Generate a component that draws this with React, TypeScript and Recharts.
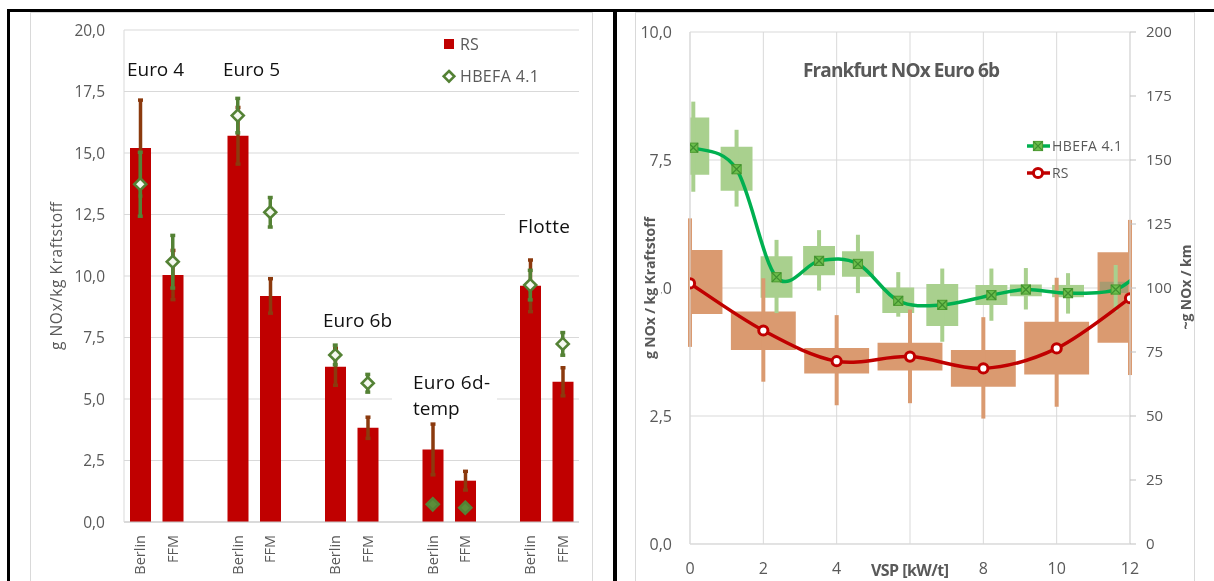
import React from 'react';
import {
  ComposedChart,
  Bar,
  Line,
  Scatter,
  XAxis,
  YAxis,
  CartesianGrid,
  ErrorBar,
  ReferenceArea,
} from 'recharts';

const FONT = '"Open Sans", "Noto Sans", sans-serif';
const GRAY_TEXT = '#595959';
const GRID = '#D9D9D9';

// ---------------- Left chart data ----------------
const slotIds = ['E4-B', 'E4-F', 'gap1', 'E5-B', 'E5-F', 'gap2', 'E6b-B', 'E6b-F', 'gap3', 'E6d-B', 'E6d-F', 'gap4', 'FL-B', 'FL-F'];
const slotLabels = ['Berlin', 'FFM', '', 'Berlin', 'FFM', '', 'Berlin', 'FFM', '', 'Berlin', 'FFM', '', 'Berlin', 'FFM'];
const rsValues = [15.2, 10.04, null, 15.7, 9.19, null, 6.31, 3.83, null, 2.95, 1.68, null, 9.6, 5.7];
const rsErrors = [1.95, 1.0, null, 1.15, 0.7, null, 0.75, 0.43, null, 1.03, 0.38, null, 1.05, 0.57];
const hbefaValues = [13.73, 10.58, null, 16.52, 12.59, null, 6.79, 5.64, null, 0.72, 0.58, null, 9.63, 7.24];
const hbefaErrors = [1.3, 1.07, null, 0.7, 0.6, null, 0.4, 0.36, null, 0, 0, null, 0.6, 0.46];
const leftTicks = [0, 2.5, 5, 7.5, 10, 12.5, 15, 17.5, 20];

// ---------------- Right chart data ----------------
const vspTicks = [0, 2, 4, 6, 8, 10, 12];
const leftAxisTicks = [0, 2.5, 5, 7.5, 10];
const rightAxisTicks = [0, 25, 50, 75, 100, 125, 150, 175, 200];

const hbefaVsp = [0.09, 1.27, 2.36, 3.52, 4.58, 5.68, 6.88, 8.22, 9.16, 10.31, 11.61, 12.5];
const hbefaMean = [7.74, 7.32, 5.21, 5.53, 5.47, 4.75, 4.67, 4.86, 4.97, 4.9, 4.97, 5.45];
const hbefaBoxLow = [7.21, 6.9, 4.81, 5.25, 5.22, 4.51, 4.26, 4.67, 4.84, 4.82, 4.9];
const hbefaBoxHigh = [8.33, 7.76, 5.62, 5.82, 5.72, 5.01, 5.08, 5.06, 5.07, 5.06, 5.12];
const hbefaWhiskLow = [6.88, 6.59, 4.51, 4.95, 4.9, 4.44, 3.95, 4.36, 4.58, 4.5, 4.54];
const hbefaWhiskHigh = [8.64, 8.09, 5.94, 6.13, 6.04, 5.31, 5.38, 5.38, 5.39, 5.29, 5.45];

const rsVsp = [0, 2, 4, 6, 8, 10, 12];
const rsMean = [5.09, 4.17, 3.57, 3.66, 3.43, 3.82, 4.8];
const rsBoxLow = [4.49, 3.79, 3.33, 3.39, 3.07, 3.31, 3.93];
const rsBoxHigh = [5.74, 4.54, 3.83, 3.93, 3.79, 4.34, 5.7];
const rsWhiskLow = [3.85, 3.17, 2.71, 2.75, 2.45, 2.68, 3.3];
const rsWhiskHigh = [6.36, 5.19, 4.47, 4.58, 4.43, 5.2, 6.33];

// ---------------- Derived tables ----------------
const leftData = slotIds.map((id, i) => ({
  id,
  rs: rsValues[i],
  rsErr: rsErrors[i],
  hb: hbefaValues[i],
  hbErr: hbefaErrors[i],
}));

const hbefaLine = hbefaVsp.map((x, i) => ({ x, y: hbefaMean[i] }));
const hbefaBand = hbefaBoxLow.map((lo, i) => ({
  x: hbefaVsp[i],
  y: hbefaMean[i],
  lo,
  hi: hbefaBoxHigh[i],
  whisk: [hbefaMean[i] - hbefaWhiskLow[i], hbefaWhiskHigh[i] - hbefaMean[i]],
}));
const rsLine = rsVsp.map((x, i) => ({ x, y: rsMean[i] }));
const rsBand = rsVsp.map((x, i) => ({
  x,
  y: rsMean[i],
  lo: rsBoxLow[i],
  hi: rsBoxHigh[i],
  whisk: [rsMean[i] - rsWhiskLow[i], rsWhiskHigh[i] - rsMean[i]],
}));

// half-widths of the boxes in VSP units (styling)
const HBEFA_HALF = 0.435;
const RS_HALF = 0.885;
const GREEN_BAND = '#A9D08E';
const BROWN_BAND = '#DA9A70';

const fmt = (v: number) => v.toFixed(1).replace('.', ',');
const fmtVsp = (v: number) => (v === 6 ? '' : String(v));

// Excel-like smoothed line (Catmull-Rom through the points)
const excelCurve: any = (context: any) => {
  let pts: number[][] = [];
  return {
    areaStart() {},
    areaEnd() {},
    lineStart() {
      pts = [];
    },
    point(x: number, y: number) {
      pts.push([+x, +y]);
    },
    lineEnd() {
      if (!pts.length) return;
      context.moveTo(pts[0][0], pts[0][1]);
      const t = 1 / 6;
      for (let i = 0; i < pts.length - 1; i++) {
        const p0 = pts[i - 1] || pts[i];
        const p1 = pts[i];
        const p2 = pts[i + 1];
        const p3 = pts[i + 2] || p2;
        context.bezierCurveTo(
          p1[0] + (p2[0] - p0[0]) * t,
          p1[1] + (p2[1] - p0[1]) * t,
          p2[0] - (p3[0] - p1[0]) * t,
          p2[1] - (p3[1] - p1[1]) * t,
          p2[0],
          p2[1]
        );
      }
    },
  };
};

const CatTick = (props: any) => {
  const { x, y, payload } = props;
  const idx = slotIds.indexOf(payload?.value);
  const label = idx >= 0 ? slotLabels[idx] : '';
  if (!label) return <g />;
  return (
    <text
      x={x}
      y={y}
      transform={`rotate(-90, ${x}, ${y})`}
      textAnchor="end"
      dy="0.35em"
      fontSize={14.5}
      fill={GRAY_TEXT}
      fontFamily={FONT}
    >
      {label}
    </text>
  );
};

const renderDiamond = (props: any) => {
  const { cx, cy, payload, index } = props;
  if (cx == null || cy == null || payload == null || payload.hb == null || isNaN(cy)) return <g key={`dm-${index}`} />;
  const s = 6;
  const solid = !payload.hbErr;
  return (
    <path
      key={`dm-${index}`}
      d={`M${cx},${cy - s}L${cx + s},${cy}L${cx},${cy + s}L${cx - s},${cy}Z`}
      fill={solid ? '#5B8E3A' : '#F4F8EF'}
      stroke="#548235"
      strokeWidth={2.6}
    />
  );
};

const renderSquareX = (props: any) => {
  const { cx, cy, index } = props;
  if (cx == null || cy == null || isNaN(cy)) return <g key={`sq-${index}`} />;
  const h = 4.6;
  return (
    <g key={`sq-${index}`}>
      <rect x={cx - h} y={cy - h} width={2 * h} height={2 * h} fill="#6CBD4C" stroke="#4C9A2E" strokeWidth={1} />
      <path
        d={`M${cx - h},${cy - h}L${cx + h},${cy + h}M${cx + h},${cy - h}L${cx - h},${cy + h}`}
        stroke="#3F8F2F"
        strokeWidth={1.3}
      />
    </g>
  );
};

const renderCircle = (props: any) => {
  const { cx, cy, index } = props;
  if (cx == null || cy == null || isNaN(cy)) return <g key={`ci-${index}`} />;
  return <circle key={`ci-${index}`} cx={cx} cy={cy} r={4.6} fill="#FFFFFF" stroke="#C00000" strokeWidth={3} />;
};

const emptyShape = () => <g />;

const tickStyle = { fill: GRAY_TEXT, fontSize: 15.5, fontFamily: FONT };

function LeftChart() {
  return (
    <ComposedChart
      width={614}
      height={581}
      data={leftData}
      margin={{ top: 30, right: 35, bottom: 0, left: 0 }}
    >
      <CartesianGrid vertical={false} stroke={GRID} />
      <XAxis
        dataKey="id"
        type="category"
        height={59}
        interval={0}
        axisLine={{ stroke: '#C8C8C8' }}
        tickLine={false}
        tickSize={0}
        tickMargin={13}
        tick={<CatTick />}
      />
      <YAxis
        width={124}
        domain={[0, 20]}
        ticks={leftTicks}
        tickFormatter={fmt}
        axisLine={{ stroke: GRID }}
        tickLine={false}
        tickSize={0}
        tickMargin={19}
        tick={tickStyle}
      />
      <Bar dataKey="rs" fill="#C00000" barSize={21} isAnimationActive={false}>
        <ErrorBar dataKey="rsErr" direction="y" width={2.5} stroke="#8B3A0E" strokeWidth={3.5} />
      </Bar>
      <Line
        dataKey="hb"
        stroke="none"
        isAnimationActive={false}
        dot={renderDiamond}
        activeDot={false}
        legendType="none"
      >
        <ErrorBar dataKey="hbErr" direction="y" width={2.5} stroke="#548235" strokeWidth={3.5} />
      </Line>
    </ComposedChart>
  );
}

function RightChart() {
  return (
    <ComposedChart width={594} height={581} margin={{ top: 32, right: 0, bottom: 0, left: 0 }}>
      <CartesianGrid stroke={GRID} yAxisId="l" />
      <XAxis
        dataKey="x"
        type="number"
        domain={[0, 12]}
        ticks={vspTicks}
        tickFormatter={fmtVsp}
        allowDataOverflow
        height={37}
        axisLine={{ stroke: GRID }}
        tickLine={false}
        tickSize={0}
        tickMargin={19}
        tick={{ ...tickStyle, fontSize: 16 }}
      />
      <YAxis
        yAxisId="l"
        orientation="left"
        width={70}
        domain={[0, 10]}
        ticks={leftAxisTicks}
        allowDataOverflow
        tickFormatter={fmt}
        axisLine={{ stroke: GRID }}
        tickLine={false}
        tickSize={0}
        tickMargin={18}
        tick={{ ...tickStyle, fontSize: 16 }}
      />
      <YAxis
        yAxisId="r"
        orientation="right"
        width={84}
        domain={[0, 200]}
        ticks={rightAxisTicks}
        allowDataOverflow
        axisLine={{ stroke: GRID }}
        tickLine={{ stroke: '#BFBFBF' }}
        tickSize={6}
        tickMargin={10}
        tick={{ ...tickStyle, fontSize: 15 }}
      />
      {rsBand.map((d, i) => (
        <ReferenceArea
          key={`rsb-${i}`}
          yAxisId="l"
          x1={d.x - RS_HALF}
          x2={d.x + RS_HALF}
          y1={d.lo}
          y2={d.hi}
          ifOverflow="hidden"
          fill={BROWN_BAND}
          fillOpacity={1}
          stroke="none"
          className="band-area"
        />
      ))}
      {hbefaBand.map((d, i) => (
        <ReferenceArea
          key={`hbb-${i}`}
          yAxisId="l"
          x1={d.x - HBEFA_HALF}
          x2={d.x + HBEFA_HALF}
          y1={d.lo}
          y2={d.hi}
          ifOverflow="hidden"
          fill={GREEN_BAND}
          fillOpacity={1}
          stroke="none"
          className="band-area"
        />
      ))}
      <Scatter
        yAxisId="l"
        data={rsBand}
        dataKey="y"
        shape={emptyShape}
        isAnimationActive={false}
        legendType="none"
      >
        <ErrorBar dataKey="whisk" direction="y" width={0} stroke={BROWN_BAND} strokeWidth={4} />
      </Scatter>
      <Scatter
        yAxisId="l"
        data={hbefaBand}
        dataKey="y"
        shape={emptyShape}
        isAnimationActive={false}
        legendType="none"
      >
        <ErrorBar dataKey="whisk" direction="y" width={0} stroke={GREEN_BAND} strokeWidth={4} />
      </Scatter>
      <Line
        yAxisId="l"
        data={hbefaLine}
        dataKey="y"
        type={excelCurve}
        stroke="#00B050"
        strokeWidth={3.5}
        dot={renderSquareX}
        activeDot={false}
        isAnimationActive={false}
      />
      <Line
        yAxisId="l"
        data={rsLine}
        dataKey="y"
        type={excelCurve}
        stroke="#C00000"
        strokeWidth={3.5}
        dot={renderCircle}
        activeDot={false}
        isAnimationActive={false}
      />
    </ComposedChart>
  );
}

const annot = { fontFamily: FONT, fontSize: 19, fill: '#111111' };

const css = `
.right-chart .recharts-reference-area,
.right-chart .band-area,
.right-chart line[stroke="${GREEN_BAND}"],
.right-chart line[stroke="${BROWN_BAND}"] { mix-blend-mode: darken; }
`;

export default function App() {
  return (
    <div
      style={{
        position: 'absolute',
        left: 0,
        top: 0,
        width: 1214,
        height: 581,
        background: '#FFFFFF',
        overflow: 'hidden',
        fontFamily: FONT,
      }}
    >
      <style>{css}</style>
      {/* frame / background */}
      <svg width={1214} height={581} style={{ position: 'absolute', left: 0, top: 0 }}>
        <rect x={30.5} y={12.5} width={562} height={600} fill="#FFFFFF" stroke={GRID} />
        <rect x={635.5} y={12.5} width={559} height={600} fill="#FFFFFF" stroke={GRID} />
        <rect x={7} y={9} width={1207} height={3} fill="#000" />
        <rect x={7} y={9} width={3} height={572} fill="#000" />
        <rect x={613} y={9} width={4} height={572} fill="#000" />
      </svg>
      <div style={{ position: 'absolute', left: 0, top: 0 }}>
        <LeftChart />
      </div>
      <div className="right-chart" style={{ position: 'absolute', left: 620, top: 0 }}>
        <RightChart />
      </div>
      {/* overlay: text boxes, titles, legends */}
      <svg width={1214} height={581} style={{ position: 'absolute', left: 0, top: 0, pointerEvents: 'none' }}>
        {/* left chart annotations */}
        <text x={127} y={76} {...annot} textLength={57}>Euro 4</text>
        <text x={223} y={76} {...annot} textLength={57}>Euro 5</text>
        <text x={323} y={327} {...annot} textLength={69}>Euro 6b</text>
        <rect x={392} y={365} width={105} height={57} fill="#FFFFFF" />
        <text x={413} y={389} {...annot} textLength={77}>Euro 6d-</text>
        <text x={413} y={415} {...annot}>temp</text>
        <rect x={505} y={205} width={74} height={36} fill="#FFFFFF" />
        <text x={518} y={233} {...annot} textLength={52}>Flotte</text>

        {/* left chart y title */}
        <text
          x={57}
          y={276}
          transform="rotate(-90, 57, 276)"
          textAnchor="middle"
          dy="0.35em"
          fontFamily={FONT}
          fontSize={15.5}
          fill={GRAY_TEXT}
          textLength={148}
        >
          g NOx/kg Kraftstoff
        </text>

        {/* left legend */}
        <rect x={444} y={39} width={10} height={10} fill="#C00000" />
        <text x={460} y={50} fontFamily={FONT} fontSize={16} fill={GRAY_TEXT}>RS</text>
        <path d="M449,71L454.3,76.3L449,81.6L443.7,76.3Z" fill="#FFFFFF" stroke="#548235" strokeWidth={2.6} />
        <text x={460} y={81.7} fontFamily={FONT} fontSize={16} fill={GRAY_TEXT} textLength={79}>HBEFA 4.1</text>

        {/* right chart title */}
        <text x={803} y={77} fontFamily={FONT} fontWeight="bold" fontSize={19} fill={GRAY_TEXT} textLength={197}>
          Frankfurt NOx Euro 6b
        </text>

        {/* right chart x label */}
        <text x={871} y={576} fontFamily={FONT} fontWeight="bold" fontSize={16} fill={GRAY_TEXT} textLength={78}>
          VSP [kW/t]
        </text>

        {/* right chart left title (covers "5," like the original) */}
        <rect x={642} y={214} width={19} height={148} fill="#FFFFFF" />
        <text
          x={650.5}
          y={288}
          transform="rotate(-90, 650.5, 288)"
          textAnchor="middle"
          dy="0.35em"
          fontFamily={FONT}
          fontWeight="bold"
          fontSize={14}
          fill={GRAY_TEXT}
          textLength={142}
        >
          g NOx / kg Kraftstoff
        </text>

        {/* right chart right title */}
        <text
          x={1186}
          y={287}
          transform="rotate(-90, 1186, 287)"
          textAnchor="middle"
          dy="0.35em"
          fontFamily={FONT}
          fontWeight="bold"
          fontSize={14}
          fill={GRAY_TEXT}
          textLength={85}
        >
          ~g NOx / km
        </text>

        {/* right legend */}
        <line x1={1027} y1={146} x2={1050} y2={146} stroke="#00B050" strokeWidth={3.5} />
        <rect x={1033.4} y={141.4} width={9.2} height={9.2} fill="#6CBD4C" stroke="#4C9A2E" strokeWidth={1} />
        <path d="M1033.4,141.4L1042.6,150.6M1042.6,141.4L1033.4,150.6" stroke="#3F8F2F" strokeWidth={1.3} />
        <text x={1052} y={151} fontFamily={FONT} fontSize={14} fill={GRAY_TEXT} textLength={70}>HBEFA 4.1</text>
        <line x1={1027} y1={173} x2={1050} y2={173} stroke="#C00000" strokeWidth={3.5} />
        <circle cx={1038} cy={173} r={4.6} fill="#FFFFFF" stroke="#C00000" strokeWidth={3} />
        <text x={1052} y={178} fontFamily={FONT} fontSize={14} fill={GRAY_TEXT}>RS</text>
      </svg>
    </div>
  );
}
